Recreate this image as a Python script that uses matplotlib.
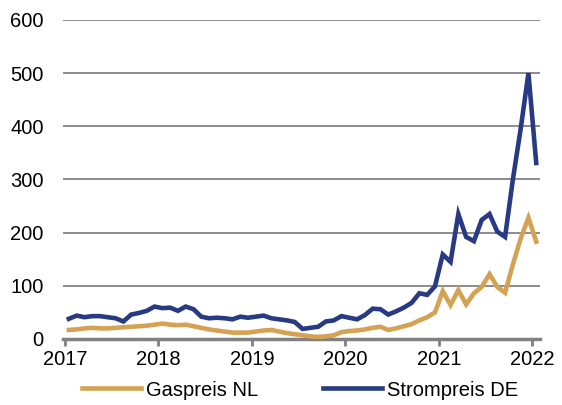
import matplotlib.pyplot as plt

plt.rcParams['font.family'] = ['Liberation Sans', 'DejaVu Sans']

# monthly values, Jan 2017 .. Jan 2022
gaspreis_nl = [17, 18, 20, 21, 20, 20, 21, 22, 23, 24, 25, 27,
               29, 27, 26, 27, 24, 21, 18, 16, 14, 12, 12, 12,
               14, 16, 17, 14, 11, 9, 7, 5, 4, 5, 7, 13,
               15, 16, 18, 21, 23, 17, 20, 24, 28, 35, 41, 50,
               90, 64, 92, 65, 86, 98, 122, 98, 87, 140, 189, 228,
               183]
strompreis_de = [38, 44, 41, 43, 43, 41, 39, 33, 46, 49, 53, 61,
                 58, 59, 53, 61, 56, 42, 39, 40, 39, 37, 42, 40,
                 42, 44, 39, 37, 35, 32, 19, 21, 23, 33, 35, 43,
                 40, 37, 45, 57, 56, 46, 52, 59, 68, 86, 83, 99,
                 159, 145, 235, 192, 184, 224, 235, 202, 192, 300, 395, 500,
                 331]
months = [2017 + (i + 0.5) / 12 for i in range(len(gaspreis_nl))]
years = [2017, 2018, 2019, 2020, 2021, 2022]

gold = '#D4A252'
navy = '#283A82'

fig = plt.figure(figsize=(5.62, 4.05), dpi=100)
ax = fig.add_axes([63.3 / 562, 66 / 405, 476.7 / 562, 319 / 405])

ax.plot(months, gaspreis_nl, color=gold, linewidth=3.3, label='Gaspreis NL',
        solid_joinstyle='miter')
ax.plot(months, strompreis_de, color=navy, linewidth=3.3, label='Strompreis DE',
        solid_joinstyle='miter')

ax.set_ylim(0, 600)
ax.set_xlim(2016.982, 2022.082)
ax.set_yticks([0, 100, 200, 300, 400, 500, 600])
ax.set_xticks(years)
ax.set_xticklabels([str(y) for y in years])

# horizontal grid only
ax.grid(axis='y', color='#8C8C8C', linewidth=1.4)
ax.set_axisbelow(True)
for s in ['top', 'right', 'left']:
    ax.spines[s].set_visible(False)
ax.spines['bottom'].set_color('#808080')
ax.spines['bottom'].set_linewidth(2.5)
ax.spines['bottom'].set_zorder(1)

ax.tick_params(axis='y', length=0, pad=14, labelsize=14.5)
ax.tick_params(axis='x', length=5, width=2, color='#808080', pad=3, labelsize=14.5)

fig.legend(loc='center', bbox_to_anchor=(300 / 562, 1 - 390 / 405), ncol=2,
           frameon=False, fontsize=14.5, handlelength=2.95, handletextpad=0.25,
           columnspacing=3.2)

fig.savefig('out.png', dpi=100)
